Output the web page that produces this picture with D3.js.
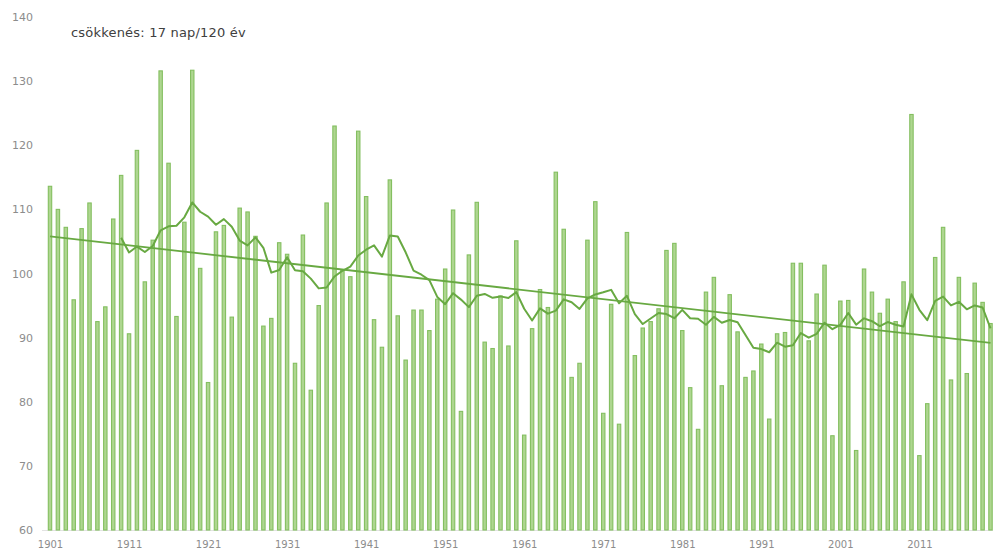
<!DOCTYPE html>
<html>
<head>
<meta charset="utf-8">
<script src="https://cdn.jsdelivr.net/npm/d3@7"></script>
<style>
  html, body { margin: 0; background: #fff; }
  svg { display: block; }
</style>
</head>
<body>
<div id="chart"></div>
<script>
// yearly values, 1901-2020
const firstYear = 1901;
const days = [
  113.6, 110.0, 107.2, 95.9, 107.0, 111.0, 92.5, 94.8, 108.5, 115.3,
  90.6, 119.2, 98.7, 105.2, 131.6, 117.2, 93.3, 108.0, 131.7, 100.8,
  83.0, 106.5, 107.5, 93.2, 110.2, 109.6, 105.8, 91.8, 93.0, 104.8,
  103.0, 86.0, 106.0, 81.8, 95.0, 111.0, 123.0, 100.6, 99.5, 122.2,
  112.0, 92.8, 88.5, 114.6, 93.4, 86.5, 94.3, 94.3, 91.1, 96.0,
  100.7, 109.9, 78.5, 102.9, 111.1, 89.3, 88.3, 96.5, 88.7, 105.1,
  74.8, 91.4, 97.5, 94.7, 115.8, 106.9, 83.8, 86.0, 105.2, 111.2,
  78.2, 95.2, 76.5, 106.4, 87.2, 91.5, 92.5, 94.5, 103.6, 104.7,
  91.1, 82.2, 75.7, 97.1, 99.4, 82.5, 96.7, 90.9, 83.8, 84.8,
  89.0, 77.3, 90.6, 90.8, 101.6, 101.6, 89.5, 96.8, 101.3, 74.7,
  95.7, 95.8, 72.4, 100.7, 97.1, 93.8, 96.0, 92.5, 98.7, 124.8,
  71.6, 79.7, 102.5, 107.2, 83.4, 99.4, 84.4, 98.5, 95.5, 92.2
];
const xTickYears = [1901, 1911, 1921, 1931, 1941, 1951, 1961, 1971, 1981, 1991, 2001, 2011];
const yTicks = [60, 70, 80, 90, 100, 110, 120, 130, 140];
const annotation = 'csökkenés: 17 nap/120 év';
const maPeriod = 10;

const width = 993, height = 553;
const barColor = '#aed690', barEdge = '#84bf60', lineColor = '#68a942';
const font = 'DejaVu Sans, sans-serif';

const years = days.map((d, i) => firstYear + i);
const data = years.map((yr, i) => ({ year: yr, value: days[i] }));

const svg = d3.select('#chart').append('svg')
  .attr('width', width)
  .attr('height', height);

const x = d3.scaleLinear().domain([firstYear, years[years.length - 1]]).range([50, 990.5]);
const y = d3.scaleLinear().domain([60, 140]).range([530, 17]);

// baseline
svg.append('line')
  .attr('x1', 42).attr('x2', width)
  .attr('y1', y(60) + 0.5).attr('y2', y(60) + 0.5)
  .attr('stroke', '#e3e3e3');

// bars
const barW = 3.4;
svg.append('g').selectAll('rect')
  .data(data)
  .join('rect')
  .attr('x', d => x(d.year) - barW / 2)
  .attr('y', d => y(d.value))
  .attr('width', barW)
  .attr('height', d => y(60) - y(d.value))
  .attr('fill', barColor)
  .attr('stroke', barEdge)
  .attr('stroke-width', 1.1);

// 10 year moving average
const ma = data.slice(maPeriod - 1).map((d, i) => ({
  year: d.year,
  value: d3.mean(days.slice(i, i + maPeriod))
}));

svg.append('path')
  .datum(ma)
  .attr('fill', 'none')
  .attr('stroke', lineColor)
  .attr('stroke-width', 2)
  .attr('stroke-linejoin', 'round')
  .attr('d', d3.line().x(d => x(d.year)).y(d => y(d.value)));

// linear trend
const mx = d3.mean(years), my = d3.mean(days);
const slope = d3.sum(data, d => (d.year - mx) * (d.value - my)) / d3.sum(data, d => (d.year - mx) ** 2);
const trend = [years[0], years[years.length - 1]].map(yr => ({ year: yr, value: my + slope * (yr - mx) }));

svg.append('path')
  .datum(trend)
  .attr('fill', 'none')
  .attr('stroke', lineColor)
  .attr('stroke-width', 1.8)
  .attr('d', d3.line().x(d => x(d.year)).y(d => y(d.value)));

// axes
const yAxis = svg.append('g')
  .attr('transform', 'translate(35,0)')
  .call(d3.axisLeft(y).tickValues(yTicks).tickSize(0).tickPadding(2));
yAxis.select('.domain').remove();
yAxis.selectAll('text')
  .attr('fill', '#8c8c8c')
  .style('font-family', font)
  .style('font-size', '11px');

const xAxis = svg.append('g')
  .attr('transform', `translate(0,${y(60)})`)
  .call(d3.axisBottom(x).tickValues(xTickYears).tickFormat(d3.format('d')).tickSize(0).tickPadding(11));
xAxis.select('.domain').remove();
xAxis.selectAll('text')
  .attr('fill', '#8c8c8c')
  .style('font-family', font)
  .style('font-size', '10px');

svg.append('text')
  .attr('x', 71)
  .attr('y', 37)
  .attr('fill', '#404040')
  .style('font-family', font)
  .style('font-size', '13px')
  .style('letter-spacing', '0.2px')
  .text(annotation);
</script>
</body>
</html>
